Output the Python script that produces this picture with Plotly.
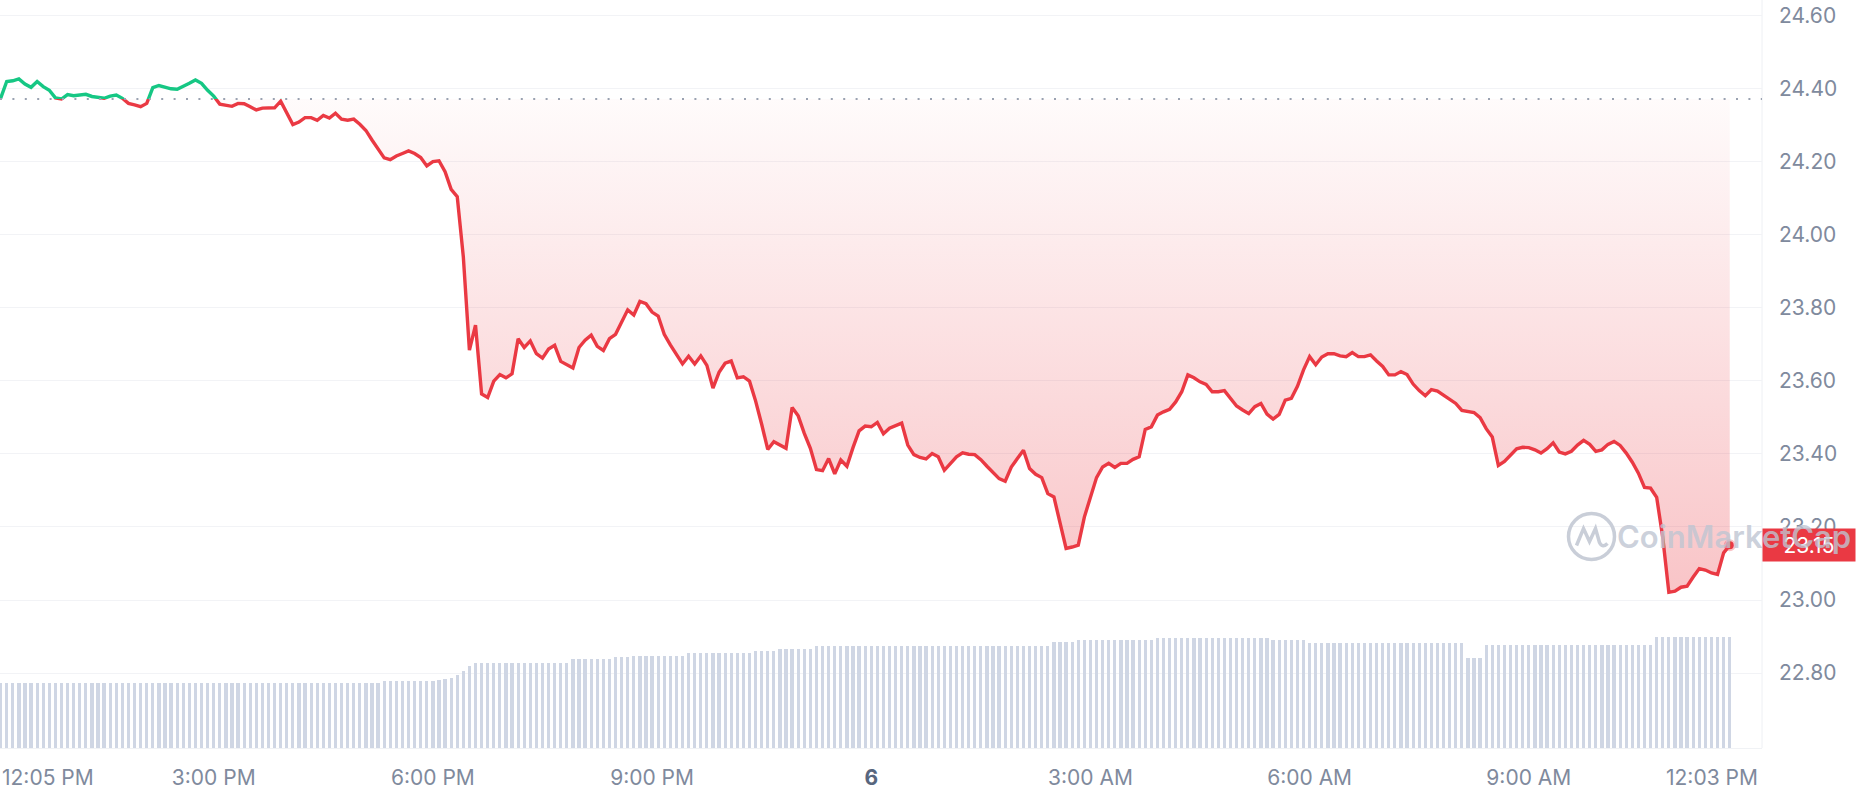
import plotly.graph_objects as go
import pandas as pd

# ---------------- data ----------------
start_time = "2024-03-05 12:05"
step = "5min"

price = [
    24.373, 24.419, 24.421, 24.426, 24.412, 24.403, 24.419, 24.405, 24.395, 24.374,
    24.371, 24.383, 24.380, 24.383, 24.384, 24.378, 24.376, 24.373, 24.379, 24.382,
    24.373, 24.359, 24.355, 24.350, 24.359, 24.402, 24.408, 24.404, 24.399, 24.398,
    24.405, 24.414, 24.423, 24.414, 24.395, 24.379, 24.357, 24.353, 24.351, 24.359,
    24.358, 24.350, 24.341, 24.346, 24.346, 24.347, 24.365, 24.334, 24.301, 24.308,
    24.320, 24.320, 24.313, 24.326, 24.319, 24.332, 24.316, 24.313, 24.316, 24.302,
    24.285, 24.259, 24.233, 24.210, 24.205, 24.215, 24.222, 24.229, 24.222, 24.211,
    24.188, 24.200, 24.202, 24.172, 24.124, 24.104, 23.939, 23.684, 23.752, 23.564,
    23.554, 23.599, 23.617, 23.608, 23.619, 23.715, 23.691, 23.709, 23.674, 23.662,
    23.687, 23.697, 23.653, 23.644, 23.635, 23.691, 23.711, 23.725, 23.694, 23.683,
    23.715, 23.727, 23.761, 23.794, 23.780, 23.817, 23.811, 23.788, 23.777, 23.727,
    23.698, 23.671, 23.646, 23.667, 23.646, 23.668, 23.642, 23.580, 23.623, 23.648,
    23.654, 23.608, 23.611, 23.599, 23.545, 23.481, 23.412, 23.433, 23.423, 23.415,
    23.527, 23.504, 23.456, 23.415, 23.357, 23.354, 23.387, 23.345, 23.383, 23.366,
    23.417, 23.463, 23.476, 23.474, 23.486, 23.455, 23.470, 23.476, 23.484, 23.424,
    23.398, 23.390, 23.386, 23.401, 23.392, 23.355, 23.374, 23.392, 23.403, 23.399,
    23.398, 23.384, 23.366, 23.348, 23.332, 23.325, 23.364, 23.387, 23.410, 23.360,
    23.344, 23.335, 23.291, 23.282, 23.214, 23.141, 23.145, 23.150, 23.227, 23.282,
    23.335, 23.364, 23.374, 23.363, 23.374, 23.374, 23.385, 23.392, 23.467, 23.474,
    23.506, 23.515, 23.522, 23.542, 23.570, 23.616, 23.608, 23.597, 23.590, 23.570,
    23.570, 23.573, 23.552, 23.531, 23.520, 23.510, 23.529, 23.538, 23.509, 23.495,
    23.508, 23.547, 23.552, 23.585, 23.630, 23.666, 23.644, 23.665, 23.674, 23.674,
    23.668, 23.666, 23.677, 23.666, 23.666, 23.671, 23.654, 23.639, 23.616, 23.616,
    23.625, 23.617, 23.591, 23.573, 23.559, 23.576, 23.572, 23.560, 23.550, 23.538,
    23.519, 23.515, 23.513, 23.499, 23.469, 23.446, 23.368, 23.379, 23.398, 23.414,
    23.418, 23.417, 23.411, 23.402, 23.414, 23.430, 23.405, 23.400, 23.407, 23.424,
    23.437, 23.426, 23.407, 23.411, 23.426, 23.434, 23.423, 23.402, 23.377, 23.347,
    23.308, 23.306, 23.281, 23.171, 23.021, 23.024, 23.035, 23.038, 23.063, 23.086,
    23.082, 23.074, 23.070, 23.129, 23.150,
]

# 24h volume (millions USD), one bar per 5 minutes
volume = [
    130, 130, 130, 130, 130, 130, 130, 130, 130,
    130, 130, 130, 130, 130, 130, 130, 130, 130,
    130, 130, 130, 130, 130, 130, 130, 130, 130,
    130, 130, 130, 130, 130, 130, 130, 130, 130,
    130, 130, 130, 130, 130, 130, 130, 130, 130,
    130, 130, 130, 130, 130, 130, 130, 130, 130,
    130, 130, 130, 130, 130, 130, 130, 130, 130,
    134, 134, 134, 134, 134, 134, 134, 134, 134,
    136, 138, 140, 146, 154, 164,
    170, 170, 170, 170, 170, 170, 170, 170,
    170, 170, 170, 170, 170, 170, 170, 170,
    178, 178, 178, 178, 178, 178, 178,
    182, 182, 182,
    184, 184, 184, 184, 184, 184, 184, 184, 184,
    190, 190, 190, 190, 190, 190, 190, 190, 190, 190, 190,
    194, 194, 194, 194,
    198, 198, 198, 198, 198, 198,
    204, 204, 204, 204, 204, 204, 204, 204, 204, 204, 204, 204, 204,
    204, 204, 204, 204, 204, 204, 204, 204, 204, 204, 204, 204, 204,
    204, 204, 204, 204, 204, 204, 204, 204, 204, 204, 204, 204, 204,
    212, 212, 212, 212,
    216, 216, 216, 216, 216, 216, 216, 216, 216, 216, 216, 216, 216,
    220, 220, 220, 220, 220, 220, 220, 220, 220, 220,
    220, 220, 220, 220, 220, 220, 220, 220, 220,
    216, 216, 216, 216, 216, 216,
    210, 210, 210, 210, 210, 210, 210, 210, 210, 210, 210, 210, 210,
    210, 210, 210, 210, 210, 210, 210, 210, 210, 210, 210, 210, 210,
    180, 180, 180,
    206, 206, 206, 206, 206, 206, 206, 206, 206, 206, 206, 206, 206, 206,
    206, 206, 206, 206, 206, 206, 206, 206, 206, 206, 206, 206, 206, 206,
    222, 222, 222, 222, 222, 222, 222, 222, 222, 222, 222, 222, 222,
]

open_price = 24.371
last_price_text = "23.15"
y_tick_values = [22.8, 23.0, 23.2, 23.4, 23.6, 23.8, 24.0, 24.2, 24.4, 24.6]
x_tick_times = ["2024-03-05 15:00", "2024-03-05 18:00", "2024-03-05 21:00",
                "2024-03-06 00:00", "2024-03-06 03:00", "2024-03-06 06:00",
                "2024-03-06 09:00"]
x_tick_text = ["3:00 PM", "6:00 PM", "9:00 PM",
               "<span style='color:#58667e'><b>6</b></span>",
               "3:00 AM", "6:00 AM", "9:00 AM"]
first_time_label = "12:05 PM"
last_time_label = "12:03 PM"
watermark = "CoinMarketCap"

# ---------------- figure ----------------
times_p = pd.date_range(start_time, periods=len(price), freq=step)
times_v = pd.date_range(start_time, periods=len(volume), freq=step)

W, H = 1858, 800
ML, MR, MT, MB = 0, 96, 0, 52
PW, PH = W - ML - MR, H - MT - MB

Y_MIN, Y_MAX = 22.595, 24.642
frac = (open_price - Y_MIN) / (Y_MAX - Y_MIN)
x_range = ["2024-03-05 12:04:30", "2024-03-06 12:11:30"]

GREEN = "#16c784"
RED = "#ea3943"
AXIS_TXT = "#808a9d"
GRID = "#f2f3f6"
FONT = "Inter"
FS = 21

fig = go.Figure()

# invisible trace to keep the main price axis active
fig.add_trace(go.Scatter(x=times_p, y=price, yaxis="y", mode="lines",
                         line=dict(width=0, color="rgba(0,0,0,0)"),
                         hoverinfo="skip", showlegend=False))

# volume bars
fig.add_trace(go.Bar(x=times_v, y=volume, yaxis="y2",
                     marker=dict(color="#cfd6e4", line=dict(width=0)),
                     width=160000, hoverinfo="skip", showlegend=False))

# green part (above the opening price) — clipped by its own subplot
fig.add_trace(go.Scatter(x=times_p, y=price, yaxis="y3", mode="lines",
                         line=dict(color=GREEN, width=3.4),
                         hoverinfo="skip", showlegend=False))

# red part (below the opening price) with gradient fill up to the baseline
fig.add_trace(go.Scatter(x=times_p, y=[open_price] * len(price), yaxis="y4",
                         mode="lines", line=dict(width=0, color="rgba(0,0,0,0)"),
                         hoverinfo="skip", showlegend=False))
fig.add_trace(go.Scatter(x=times_p, y=price, yaxis="y4", mode="lines",
                         line=dict(color=RED, width=3.4),
                         fill="tonexty",
                         fillgradient=dict(type="vertical",
                                           colorscale=[[0, "rgba(234,57,67,0.30)"],
                                                       [1, "rgba(234,57,67,0.02)"]],
                                           start=23.0, stop=open_price),
                         hoverinfo="skip", showlegend=False))

# last point marker
fig.add_trace(go.Scatter(x=[times_p[-1]], y=[price[-1]], yaxis="y4", mode="markers",
                         marker=dict(size=8, color=RED,
                                     line=dict(color="rgba(234,57,67,0.3)", width=4)),
                         hoverinfo="skip", showlegend=False))

fig.update_layout(
    width=W, height=H,
    margin=dict(l=ML, r=MR, t=MT, b=MB, autoexpand=False),
    paper_bgcolor="white", plot_bgcolor="rgba(0,0,0,0)",
    font=dict(family=FONT, color=AXIS_TXT, size=FS),
    showlegend=False, bargap=0,
    xaxis=dict(type="date", range=x_range, showgrid=False, zeroline=False,
               tickmode="array", tickvals=x_tick_times, ticktext=x_tick_text,
               ticks="", ticklabelstandoff=11,
               tickfont=dict(family=FONT, size=FS, color=AXIS_TXT),
               showline=True, linecolor="#f0f2f5", linewidth=1, fixedrange=True),
    yaxis=dict(range=[Y_MIN, Y_MAX], side="right", tickmode="array",
               tickvals=y_tick_values, tickformat=".2f",
               showgrid=True, gridcolor=GRID, gridwidth=1, zeroline=False,
               ticks="", ticklabelstandoff=16,
               tickfont=dict(family=FONT, size=FS, color=AXIS_TXT),
               showline=False, fixedrange=True),
    yaxis2=dict(overlaying="y", range=[0, 1496], visible=False, fixedrange=True),
    yaxis3=dict(domain=[frac, 1], range=[open_price, Y_MAX], anchor="x",
                visible=False, fixedrange=True),
    yaxis4=dict(domain=[0, frac], range=[Y_MIN, open_price], anchor="x",
                visible=False, fixedrange=True),
)

# baseline (opening price) dotted line and right border
fig.add_shape(type="line", xref="paper", x0=0, x1=1, yref="y",
              y0=open_price, y1=open_price,
              line=dict(color="#9aa2b1", width=2, dash="2px,10.4px"), layer="above")
fig.add_shape(type="line", xref="paper", x0=1, x1=1, yref="paper", y0=0, y1=1,
              line=dict(color="#eef0f4", width=1), layer="below")

# watermark logo (circle + "M" stroke)
lx, ly = 1591.5 / PW, (PH - 536.5) / PH
fig.add_shape(type="circle", xref="paper", yref="paper",
              xsizemode="pixel", ysizemode="pixel", xanchor=lx, yanchor=ly,
              x0=-23, x1=23, y0=-23, y1=23,
              line=dict(color="#c9ced8", width=3.5), layer="above")
fig.add_shape(type="path", xref="paper", yref="paper",
              xsizemode="pixel", ysizemode="pixel", xanchor=lx, yanchor=ly,
              path="M -15,-9 L -8,8 L -2,-5 L 4,8 L 8,-6 Q 11,-12 16,-7",
              line=dict(color="#c9ced8", width=3.5), layer="above")

annotations = [
    # current price tag
    dict(xref="paper", x=1.0, xanchor="left", yref="y", y=price[-1], yanchor="middle",
         text=last_price_text, showarrow=False, bgcolor=RED, width=90, height=30,
         align="center", font=dict(family=FONT, size=FS, color="white")),
    # watermark text
    dict(xref="paper", x=1615 / PW, xanchor="left", yref="paper", y=ly, yanchor="middle",
         text=watermark, showarrow=False,
         font=dict(family=FONT, size=31, color="rgba(190,197,210,0.8)", weight=600)),
    # edge time labels
    dict(xref="paper", x=0.0, xanchor="left", yref="paper", y=-29 / PH, yanchor="middle",
         text=first_time_label, showarrow=False,
         font=dict(family=FONT, size=FS, color=AXIS_TXT)),
    dict(xref="paper", x=1664 / PW, xanchor="left", yref="paper", y=-29 / PH,
         yanchor="middle", text=last_time_label, showarrow=False,
         font=dict(family=FONT, size=FS, color=AXIS_TXT)),
]
fig.update_layout(annotations=annotations)

fig.write_html("out.html",
               config={"displayModeBar": False},
               post_script="document.body.style.margin='0px';"
                           "document.body.style.overflow='hidden';")
